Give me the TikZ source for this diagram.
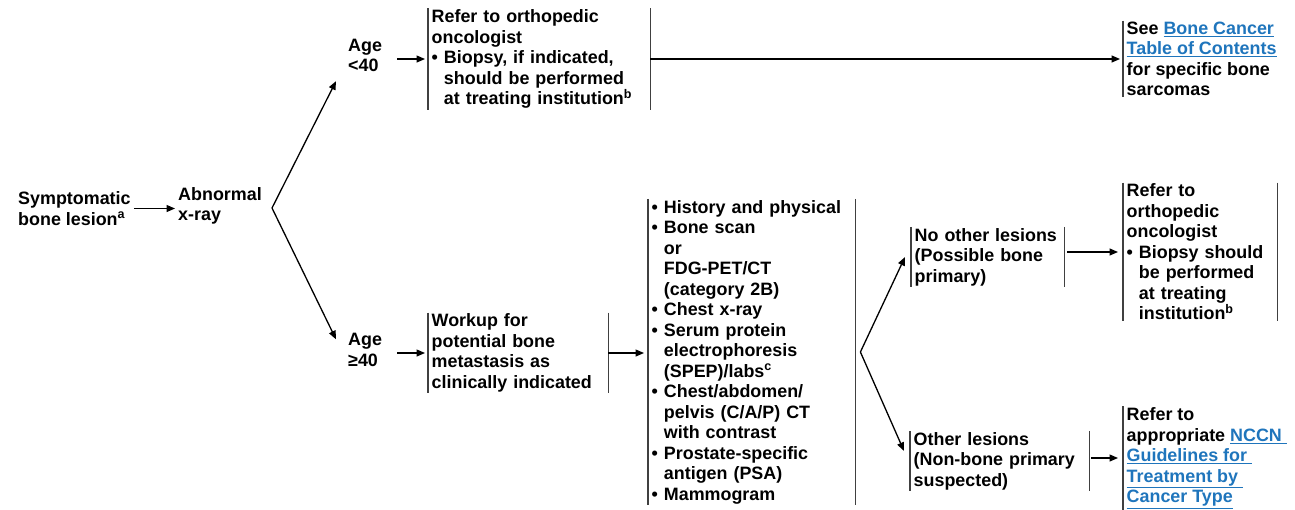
\documentclass[tikz,border=0pt]{standalone}
\usepackage{fontspec}
\setmainfont{Liberation Sans}
\usetikzlibrary{arrows.meta,positioning,calc}
\definecolor{linkblue}{RGB}{31,117,188}
\newcommand{\lnk}[1]{\textcolor{linkblue}{\underline{#1}}}
\newcommand{\bul}{\textbullet\ }
\newcommand{\ind}{\hphantom{\textbullet\ }}

\begin{document}
\begin{tikzpicture}[
    x=1pt, y=-1pt,
    every node/.style={font=\fontsize{17.9}{20.5}\selectfont\bfseries, align=left, anchor=west},
    txt/.style={inner sep=3pt},
    box/.style={inner xsep=3.5pt, inner ysep=1pt},
    bar/.style={draw=black!75, line width=1.6pt},
    arrow/.style={-{Triangle[length=8.5pt, width=7pt]}, line width=1.3pt}
]
\useasboundingbox (0,0) rectangle (1295,509);

% Start
\node[txt] (symp) at (15,208.5) {Symptomatic\\bone lesion\textsuperscript{a}};
\node[txt] (xray) at (175,206) {Abnormal\\x-ray};
\node[txt] (age1) at (345,55.5) {Age\\<40};
\node[txt] (age2) at (345,350) {Age\\≥40};

% Age < 40
\node[box, text width=215pt] (ortho1) at (428,59) {Refer to orthopedic\\
  oncologist\\
  \bul Biopsy, if indicated,\\
  \ind should be performed\\
  \ind at treating institution\textsuperscript{b}};
\node[box] (toc) at (1123,59) {See \lnk{Bone Cancer}\\
  \lnk{Table of Contents}\\
  for specific bone\\
  sarcomas};

% Age >= 40
\node[box, text width=173pt] (workup) at (428,353) {Workup for\\
  potential bone\\
  metastasis as\\
  clinically indicated};
\node[box, text width=200pt] (tests) at (648,352) {\bul History and physical\\
  \bul Bone scan\\
  \ind or\\
  \ind FDG-PET/CT\\
  \ind (category 2B)\\
  \bul Chest x-ray\\
  \bul Serum protein\\
  \ind electrophoresis\\
  \ind (SPEP)/labs\textsuperscript{c}\\
  \bul Chest/abdomen/\\
  \ind pelvis (C/A/P) CT\\
  \ind with contrast\\
  \bul Prostate-specific\\
  \ind antigen (PSA)\\
  \bul Mammogram};
\node[box, text width=146pt] (nolesion) at (911,257) {No other lesions\\
  (Possible bone\\
  primary)};
\node[box, text width=147pt] (ortho2) at (1123,252) {Refer to\\
  orthopedic\\
  oncologist\\
  \bul Biopsy should\\
  \ind be performed\\
  \ind at treating\\
  \ind institution\textsuperscript{b}};
\node[box, text width=172pt] (other) at (910,461) {Other lesions\\
  (Non-bone primary\\
  suspected)};
\node[box] (nccn) at (1123,458) {Refer to\\
  appropriate \lnk{NCCN }\\
  \lnk{Guidelines for }\\
  \lnk{Treatment by }\\
  \lnk{Cancer Type}};

% Bars
\foreach \n in {ortho1,toc,workup,tests,nolesion,ortho2,other,nccn}
  \draw[bar] (\n.north west) -- (\n.south west);
\foreach \n in {ortho1,workup,tests,nolesion,ortho2,other}
  \draw[bar] (\n.north east) -- (\n.south east);

% Forks
\coordinate (fork1) at (272,208);
\coordinate (fork2) at ([xshift=5pt]tests.east);

% Arrows
\draw[arrow] (symp.east) -- (symp.east -| xray.west);
\draw[arrow] (fork1) -- ($(age1.south west)+(-9,6)$);
\draw[arrow] (fork1) -- ($(age2.north west)+(-9,9)$);
\draw[arrow, shorten <=12pt, shorten >=3pt] (age1.east |- ortho1.west) -- (ortho1.west);
\draw[arrow, shorten <=12pt, shorten >=3pt] (age2.east |- workup.west) -- (workup.west);
\draw[arrow, shorten >=3pt] (ortho1.east) -- (toc.west);
\draw[arrow, shorten >=4pt] (workup.east) -- (workup.east -| tests.west);
\draw[arrow] (fork2) -- ([xshift=-6pt]nolesion.west);
\draw[arrow] (fork2) -- ($(other.north west)+(-6,20)$);
\draw[arrow, shorten <=3pt, shorten >=5pt] (nolesion.east |- ortho2.west) -- (ortho2.west);
\draw[arrow, shorten <=2pt, shorten >=5pt] (other.east |- nccn.west) -- (nccn.west);

\end{tikzpicture}
\end{document}
